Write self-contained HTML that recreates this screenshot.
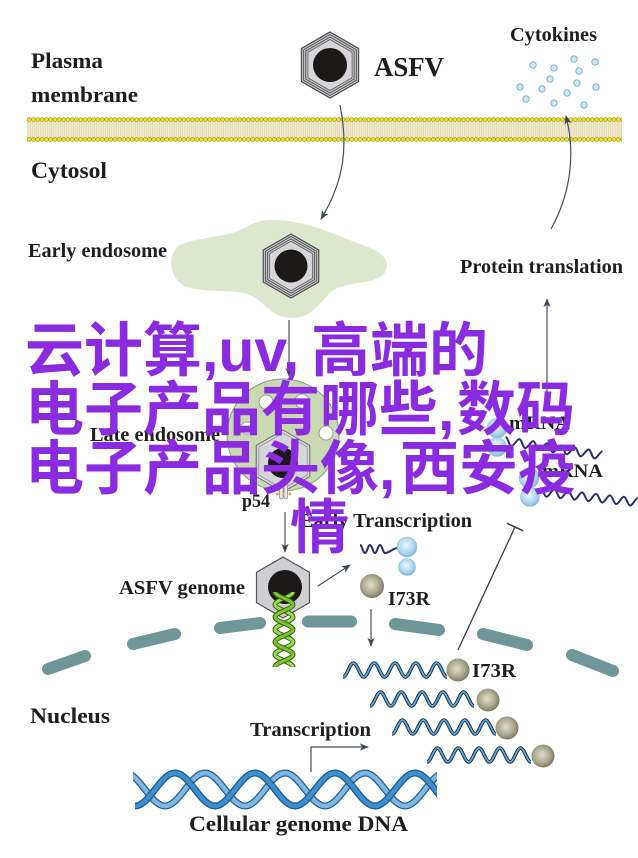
<!DOCTYPE html>
<html>
<head>
<meta charset="utf-8">
<style>
html,body{margin:0;padding:0;background:#fff;}
body{width:638px;height:858px;overflow:hidden;}
svg{display:block;}
.t{font-family:"Liberation Serif",serif;font-weight:bold;fill:#1e1e1e;}
.p{font-family:"Liberation Sans","Noto Sans CJK SC",sans-serif;font-weight:bold;font-size:59px;fill:#8a2be2;}
</style>
</head>
<body>
<svg width="638" height="858" viewBox="0 0 638 858" xmlns="http://www.w3.org/2000/svg">
<defs>
  <marker id="ah" viewBox="0 0 10 8" refX="9" refY="4" markerWidth="9" markerHeight="7.2" markerUnits="userSpaceOnUse" orient="auto">
    <path d="M0,0 L10,4 L0,8 L2.5,4 z" fill="#3d4a55"/>
  </marker>
  <pattern id="dot1" x="27" y="117" width="4.3" height="5" patternUnits="userSpaceOnUse">
    <circle cx="2.15" cy="2.5" r="2" fill="#ede21c" stroke="#8d8620" stroke-width="0.5"/>
  </pattern>
  <pattern id="dot2" x="27" y="137" width="4.3" height="5" patternUnits="userSpaceOnUse">
    <circle cx="2.15" cy="2.5" r="2" fill="#ede21c" stroke="#8d8620" stroke-width="0.5"/>
  </pattern>
  <pattern id="tail" x="27" y="0" width="2.15" height="10" patternUnits="userSpaceOnUse">
    <line x1="1" y1="0" x2="1" y2="10" stroke="#d8ca96" stroke-width="0.6"/>
  </pattern>
  <radialGradient id="gOl" cx="0.45" cy="0.45" r="0.6">
    <stop offset="0" stop-color="#e2e0cc"/><stop offset="0.6" stop-color="#a9a78c"/><stop offset="1" stop-color="#72705a"/>
  </radialGradient>
  <radialGradient id="gBl" cx="0.45" cy="0.4" r="0.6">
    <stop offset="0" stop-color="#eef7fc"/><stop offset="0.7" stop-color="#a9d3ea"/><stop offset="1" stop-color="#7fb6d6"/>
  </radialGradient>
  <clipPath id="dnaclip"><rect x="133" y="760" width="304" height="60"/></clipPath>
  <g id="virion">
    <polygon points="0,-33 28.6,-16.5 28.6,16.5 0,33 -28.6,16.5 -28.6,-16.5" fill="#c4c4c8" stroke="#4c4c4c" stroke-width="1.2"/>
    <polygon points="0,-30.5 26.4,-15.25 26.4,15.25 0,30.5 -26.4,15.25 -26.4,-15.25" fill="none" stroke="#505050" stroke-width="0.9"/>
    <polygon points="0,-28 24.2,-14 24.2,14 0,28 -24.2,14 -24.2,-14" fill="none" stroke="#505050" stroke-width="0.9"/>
    <polygon points="0,-25.5 22.1,-12.75 22.1,12.75 0,25.5 -22.1,12.75 -22.1,-12.75" fill="#d6d6da" stroke="#5c5c5c" stroke-width="0.8"/>
    <circle cx="0" cy="0" r="17" fill="#1c1818"/>
  </g>
  <path id="sq" d="M0,7 c3.79,0 6.61,-14 10.4,-14 s6.61,14 10.4,14 s6.61,-14 10.4,-14 s6.61,14 10.4,14 s6.61,-14 10.4,-14 s6.61,14 10.4,14 s6.61,-14 10.4,-14 s6.61,14 10.4,14 s6.61,-14 10.4,-14 s6.61,14 10.4,14"/>
  <path id="sq2" d="M0,-4 c2.55,0 4.45,8 7,8 s4.45,-8 7,-8 s4.45,8 7,8 s4.45,-8 7,-8 s4.45,8 7,8 s4.45,-8 7,-8 s4.45,8 7,8 s4.45,-8 7,-8 s4.45,8 7,8 s4.45,-8 7,-8 s4.45,8 7,8 s4.45,-8 7,-8 s4.45,8 7,8 s4.45,-8 7,-8"/>
  <path id="dnaA" d="M135,806 C149.6,806 160.4,773 175,773 S200.4,806 215,806 S240.4,773 255,773 S280.4,806 295,806 S320.4,773 335,773 S360.4,806 375,806 S400.4,773 415,773 S440.4,806 455,806"/>
  <path id="dnaB" d="M125,773 C139.6,773 150.4,806 165,806 S190.4,773 205,773 S230.4,806 245,806 S270.4,773 285,773 S310.4,806 325,806 S350.4,773 365,773 S390.4,806 405,806 S430.4,773 445,773"/>
</defs>

<rect width="638" height="858" fill="#fff"/>

<!-- Membrane -->
<rect x="27" y="120" width="595" height="19" fill="#f3ecd2"/>
<rect x="27" y="120" width="595" height="19" fill="url(#tail)"/>
<rect x="27" y="117" width="595" height="5" fill="url(#dot1)"/>
<rect x="27" y="137" width="595" height="5" fill="url(#dot2)"/>

<!-- ASFV -->
<use href="#virion" transform="translate(330,65)"/>
<text class="t" x="374" y="76" font-size="27" textLength="70" lengthAdjust="spacingAndGlyphs">ASFV</text>

<!-- Labels top -->
<text class="t" x="31" y="68" font-size="22" textLength="72" lengthAdjust="spacingAndGlyphs">Plasma</text>
<text class="t" x="31" y="102" font-size="22" textLength="107" lengthAdjust="spacingAndGlyphs">membrane</text>
<text class="t" x="31" y="178" font-size="23" textLength="76" lengthAdjust="spacingAndGlyphs">Cytosol</text>
<text class="t" x="510" y="41" font-size="20" textLength="87" lengthAdjust="spacingAndGlyphs">Cytokines</text>

<!-- Cytokine dots -->
<g fill="#cfe7f3" stroke="#70a9c9" stroke-width="0.9">
  <circle cx="533" cy="65" r="3.2"/><circle cx="554" cy="68" r="3.2"/><circle cx="574" cy="59" r="3.2"/>
  <circle cx="595" cy="62" r="3.2"/><circle cx="579" cy="71" r="3.2"/><circle cx="550" cy="79" r="3.2"/>
  <circle cx="520" cy="87" r="3.2"/><circle cx="542" cy="89" r="3.2"/><circle cx="577" cy="83" r="3.2"/>
  <circle cx="596" cy="87" r="3.2"/><circle cx="567" cy="93" r="3.2"/><circle cx="526" cy="99" r="3.2"/>
  <circle cx="554" cy="103" r="3.2"/><circle cx="584" cy="105" r="3.2"/>
</g>

<!-- Curved arrows -->
<path d="M340,105 C348,145 345,180 321,219" fill="none" stroke="#45525c" stroke-width="1.2" marker-end="url(#ah)"/>
<path d="M551,229 C570,195 576,155 566,116" fill="none" stroke="#45525c" stroke-width="1.2" marker-end="url(#ah)"/>

<!-- Early endosome -->
<path d="M270,220 C300,219 330,232 360,244 C380,251 390,258 386,270 C382,283 355,282 340,287 C322,293 318,318 292,318 C272,318 265,303 252,296 C235,287 200,295 183,285 C168,276 168,252 180,245 C200,236 230,238 248,226 C256,222 262,220 270,220 Z" fill="#dce7cd"/>
<use href="#virion" transform="translate(291,266) scale(0.97)"/>
<text class="t" x="28" y="257" font-size="20" textLength="139" lengthAdjust="spacingAndGlyphs">Early endosome</text>
<text class="t" x="460" y="273" font-size="20" textLength="163" lengthAdjust="spacingAndGlyphs">Protein translation</text>

<!-- arrow endosome -> late -->
<line x1="289" y1="320" x2="289" y2="376" stroke="#45525c" stroke-width="1.2" marker-end="url(#ah)"/>

<!-- Late endosome -->
<circle cx="283" cy="435" r="56" fill="#c9d9b2" stroke="#8a9a7a" stroke-width="1"/>
<g fill="#fff" stroke="#8a8a8a" stroke-width="0.8">
  <circle cx="266" cy="402" r="7"/><circle cx="302" cy="401" r="7"/>
  <circle cx="326" cy="433" r="7"/><circle cx="247" cy="428" r="6"/>
</g>
<polygon points="283,430 309.8,445.5 309.8,476.5 283,492 256.2,476.5 256.2,445.5" fill="#d6d6da" stroke="#6a6a6a" stroke-width="1"/>
<polygon points="283,433 307.2,447 307.2,475 283,489 258.8,475 258.8,447" fill="none" stroke="#888" stroke-width="0.7"/>
<circle cx="283" cy="463" r="15" fill="#1c1818"/>
<rect x="279.5" y="484" width="3.5" height="15" rx="1.5" fill="#efe6d6" stroke="#777" stroke-width="0.6"/>
<rect x="284" y="484" width="3.5" height="15" rx="1.5" fill="#efe6d6" stroke="#777" stroke-width="0.6"/>
<circle cx="277.5" cy="494" r="1.5" fill="#e0a060"/><circle cx="290" cy="494" r="1.5" fill="#e0a060"/>
<text class="t" x="90" y="441" font-size="20" textLength="130" lengthAdjust="spacingAndGlyphs">Late endosome</text>
<text class="t" x="242" y="507" font-size="19" textLength="28" lengthAdjust="spacingAndGlyphs">p54</text>

<!-- arrow p54 -> genome -->
<line x1="285" y1="512" x2="285" y2="552" stroke="#45525c" stroke-width="1.2" marker-end="url(#ah)"/>

<!-- Right top: protein translation arrow, mRNA -->
<line x1="547" y1="402" x2="547" y2="299" stroke="#45525c" stroke-width="1.2" marker-end="url(#ah)"/>
<text class="t" x="509" y="429" font-size="19" textLength="61" lengthAdjust="spacingAndGlyphs">mRNA</text>
<text class="t" x="542" y="477" font-size="19" textLength="61" lengthAdjust="spacingAndGlyphs">mRNA</text>
<use href="#sq2" transform="translate(505,441) rotate(8.5)" fill="none" stroke="#2b2d6e" stroke-width="2"/>
<use href="#sq2" transform="translate(540,492) rotate(6)" fill="none" stroke="#2b2d6e" stroke-width="2"/>
<g fill="url(#gBl)" stroke="#8fbcd6" stroke-width="0.6">
  <circle cx="497" cy="428" r="10"/><circle cx="497" cy="447" r="9.5"/>
  <circle cx="529" cy="478" r="10"/><circle cx="530" cy="497" r="9.5"/>
</g>

<!-- inhibition line -->
<line x1="458" y1="650" x2="515" y2="527" stroke="#3a3f45" stroke-width="1.3"/>
<line x1="506.8" y1="523.2" x2="523.2" y2="530.8" stroke="#3a3f45" stroke-width="1.5"/>

<!-- Early transcription -->
<text class="t" x="300" y="527" font-size="20" textLength="172" lengthAdjust="spacingAndGlyphs">Early Transcription</text>
<path d="M360,545 c2,0 3,8 5,8 s3,-8 5,-8 s3,8 5,8 s3,-8 5,-8 s3,8 5,8 c4,0 7,-4 12,-5" fill="none" stroke="#2b2d6e" stroke-width="2"/>
<g fill="url(#gBl)" stroke="#8fbcd6" stroke-width="0.6">
  <circle cx="407" cy="547" r="10"/><circle cx="407" cy="567" r="8.5"/>
</g>

<!-- Nuclear envelope -->
<g stroke="#6f9799" stroke-width="12" stroke-linecap="round" fill="none">
  <line x1="48" y1="669" x2="85" y2="656"/>
  <line x1="133" y1="644" x2="175" y2="634"/>
  <line x1="220" y1="628" x2="260" y2="623"/>
  <line x1="308" y1="621.5" x2="351" y2="621.5"/>
  <line x1="395" y1="624" x2="439" y2="630"/>
  <line x1="483" y1="634" x2="527" y2="645"/>
  <line x1="572" y1="655" x2="613" y2="671"/>
</g>

<!-- ASFV genome -->
<polygon points="283,557 309.5,572.3 309.5,602.7 283,618 256.5,602.7 256.5,572.3" fill="#cfcfd3" stroke="#555" stroke-width="1.2"/>
<circle cx="285" cy="587" r="17" fill="#1c1818"/>
<g fill="none">
  <path d="M293,592 C293,596.6 275,599.9 275,604.5 S293,612.4 293,617 S275,624.9 275,629.5 S293,637.4 293,642 S275,649.9 275,654.5 S293,662.4 293,667" stroke="#35600f" stroke-width="5"/>
  <path d="M293,592 C293,596.6 275,599.9 275,604.5 S293,612.4 293,617 S275,624.9 275,629.5 S293,637.4 293,642 S275,649.9 275,654.5 S293,662.4 293,667" stroke="#9ad84e" stroke-width="3"/>
  <path d="M275,592 C275,596.6 293,599.9 293,604.5 S275,612.4 275,617 S293,624.9 293,629.5 S275,637.4 275,642 S293,649.9 293,654.5 S275,662.4 275,667" stroke="#35600f" stroke-width="5"/>
  <path d="M275,592 C275,596.6 293,599.9 293,604.5 S275,612.4 275,617 S293,624.9 293,629.5 S275,637.4 275,642 S293,649.9 293,654.5 S275,662.4 275,667" stroke="#7cc42a" stroke-width="3"/>
</g>
<text class="t" x="119" y="594" font-size="20" textLength="126" lengthAdjust="spacingAndGlyphs">ASFV genome</text>
<line x1="318" y1="586" x2="350" y2="565" stroke="#45525c" stroke-width="1.2" marker-end="url(#ah)"/>

<!-- I73R -->
<circle cx="372" cy="586" r="12" fill="url(#gOl)"/>
<text class="t" x="388" y="605" font-size="20" textLength="42" lengthAdjust="spacingAndGlyphs">I73R</text>
<line x1="371" y1="609" x2="371" y2="646" stroke="#45525c" stroke-width="1.2" marker-end="url(#ah)"/>

<!-- mRNA rows -->
<g fill="none">
  <use href="#sq" transform="translate(343,670)" stroke="#1c2633" stroke-width="3.6"/>
  <use href="#sq" transform="translate(343,670)" stroke="#5aa5dd" stroke-width="1.8"/>
  <use href="#sq" transform="translate(370,699)" stroke="#1c2633" stroke-width="3.6"/>
  <use href="#sq" transform="translate(370,699)" stroke="#5aa5dd" stroke-width="1.8"/>
  <use href="#sq" transform="translate(392,727)" stroke="#1c2633" stroke-width="3.6"/>
  <use href="#sq" transform="translate(392,727)" stroke="#5aa5dd" stroke-width="1.8"/>
  <use href="#sq" transform="translate(427,755)" stroke="#1c2633" stroke-width="3.6"/>
  <use href="#sq" transform="translate(427,755)" stroke="#5aa5dd" stroke-width="1.8"/>
</g>
<g fill="url(#gOl)">
  <circle cx="458" cy="670" r="11.5"/><circle cx="488" cy="700" r="11.5"/>
  <circle cx="507" cy="728" r="11.5"/><circle cx="543" cy="756" r="11.5"/>
</g>
<text class="t" x="472" y="677" font-size="20" textLength="44" lengthAdjust="spacingAndGlyphs">I73R</text>

<text class="t" x="30" y="723" font-size="22" textLength="80" lengthAdjust="spacingAndGlyphs">Nucleus</text>
<text class="t" x="250" y="736" font-size="20" textLength="121" lengthAdjust="spacingAndGlyphs">Transcription</text>

<!-- Cellular DNA -->
<g fill="none" clip-path="url(#dnaclip)">
  <use href="#dnaB" stroke="#245f94" stroke-width="7"/>
  <use href="#dnaB" stroke="#7db7e3" stroke-width="4.5"/>
  <use href="#dnaA" stroke="#1f5a8c" stroke-width="7"/>
  <use href="#dnaA" stroke="#3b8ed0" stroke-width="4.5"/>
</g>
<path d="M311,772 L311,747 L368,747" fill="none" stroke="#45525c" stroke-width="1.2" marker-end="url(#ah)"/>
<text class="t" x="189" y="831" font-size="22" textLength="219" lengthAdjust="spacingAndGlyphs">Cellular genome DNA</text>

<!-- Purple overlay title -->
<text class="p" y="371"><tspan x="25">云计算</tspan><tspan x="202">,uv,</tspan><tspan x="311">高端的</tspan></text>
<text class="p" y="430"><tspan x="25">电子产品有哪些</tspan><tspan x="438">,</tspan><tspan x="457">数码</tspan></text>
<text class="p" y="489"><tspan x="25">电子产品头像</tspan><tspan x="379">,</tspan><tspan x="400">西安疫</tspan></text>
<text class="p" y="548"><tspan x="290">情</tspan></text>
</svg>
</body>
</html>
